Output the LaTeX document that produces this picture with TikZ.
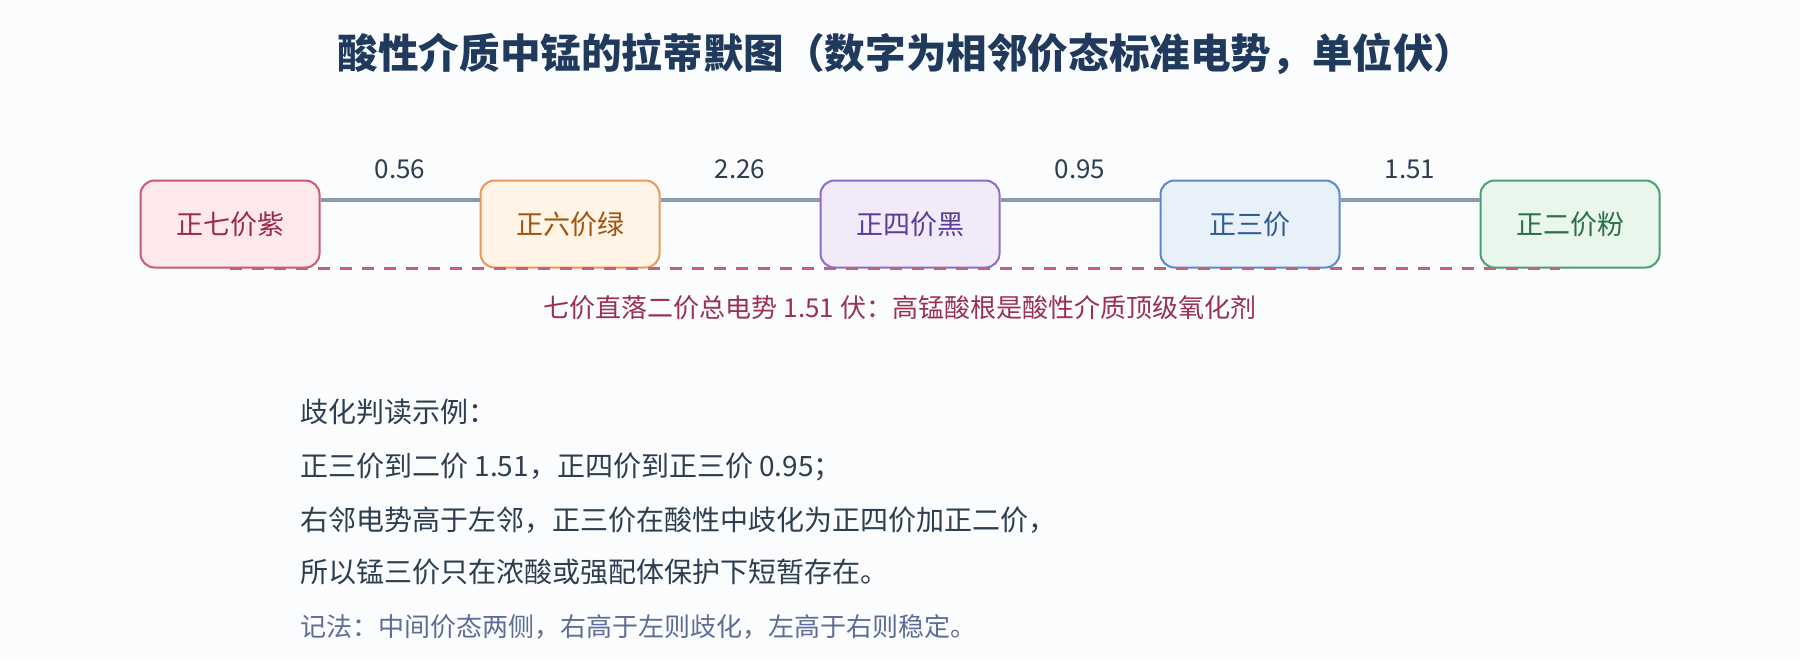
\documentclass[tikz,border=0pt]{standalone}
\usepackage{fontspec}
\setmainfont{Noto Sans CJK SC}
\usepackage{tikz}
\usetikzlibrary{calc}
\usepackage{xcolor}

\definecolor{bgcol}{HTML}{FBFCFE}
\definecolor{titlecol}{HTML}{1F3A5C}
\definecolor{textcol}{HTML}{2C3E50}
\definecolor{notecol}{HTML}{5D6D94}
\definecolor{linkcol}{HTML}{8A9BAB}
\definecolor{dashcol}{HTML}{C8607A}
\definecolor{capcol}{HTML}{9B3050}
% 各价态的颜色
\definecolor{mnVIIfill}{HTML}{FDE8EC}\definecolor{mnVIIdraw}{HTML}{C85A72}\definecolor{mnVIItext}{HTML}{9B2C48}
\definecolor{mnVIfill}{HTML}{FFF4E6}\definecolor{mnVIdraw}{HTML}{E8985A}\definecolor{mnVItext}{HTML}{A0540F}
\definecolor{mnIVfill}{HTML}{F1EAF9}\definecolor{mnIVdraw}{HTML}{8A6CC8}\definecolor{mnIVtext}{HTML}{5B3C9A}
\definecolor{mnIIIfill}{HTML}{E8F1FA}\definecolor{mnIIIdraw}{HTML}{5A88C8}\definecolor{mnIIItext}{HTML}{2F5C94}
\definecolor{mnIIfill}{HTML}{E8F6EC}\definecolor{mnIIdraw}{HTML}{4AA070}\definecolor{mnIItext}{HTML}{2A7048}

\begin{document}
\begin{tikzpicture}[x=0.5pt, y=-0.5pt]
        % ================= 样式定义 =================
        \tikzset{
            % 价态方框
            state/.style={rectangle, rounded corners=7pt, line width=1pt, minimum width=89.5pt, minimum height=43.5pt, inner sep=0pt, font=\fontsize{13.5pt}{16pt}\selectfont},
            % 相邻价态之间的连线
            link/.style={line width=2pt, linkcol},
            % 电势数字
            potential/.style={font=\fontsize{13pt}{15pt}\selectfont, text=textcol, inner sep=0pt},
            % 七价到二价的总电势虚线
            total/.style={line width=1.5pt, dashcol, dash pattern=on 6pt off 5pt},
            % 下方说明文字
            body/.style={anchor=west, inner sep=0pt, font=\fontsize{14pt}{17pt}\selectfont, text=textcol}
        }

        % ================= 0. 背景 =================
        \fill[bgcol] (0,0) rectangle (1800,660);

        % ================= 1. 标题 =================
        \node[font=\fontsize{20.3pt}{24pt}\selectfont\bfseries, text=titlecol] (title) at (906,54) {酸性介质中锰的拉蒂默图（数字为相邻价态标准电势，单位伏）};

        % ================= 2. 五个价态 =================
        \node[state, fill=mnVIIfill, draw=mnVIIdraw, text=mnVIItext] (mn7) at (230,224) {正七价紫};
        \node[state, fill=mnVIfill, draw=mnVIdraw, text=mnVItext] (mn6) at (570,224) {正六价绿};
        \node[state, fill=mnIVfill, draw=mnIVdraw, text=mnIVtext] (mn4) at (910,224) {正四价黑};
        \node[state, fill=mnIIIfill, draw=mnIIIdraw, text=mnIIItext] (mn3) at (1250,224) {正三价};
        \node[state, fill=mnIIfill, draw=mnIIdraw, text=mnIItext] (mn2) at (1570,224) {正二价粉};

        % ================= 3. 连线与电势 =================
        \draw[link] ([yshift=-10pt]mn7.north east) -- node[potential, yshift=15pt] (e76) {0.56} ([yshift=-10pt]mn6.north west);
        \draw[link] ([yshift=-10pt]mn6.north east) -- node[potential, yshift=15pt] (e64) {2.26} ([yshift=-10pt]mn4.north west);
        \draw[link] ([yshift=-10pt]mn4.north east) -- node[potential, yshift=15pt] (e43) {0.95} ([yshift=-10pt]mn3.north west);
        \draw[link] ([yshift=-10pt]mn3.north east) -- node[potential, yshift=15pt] (e32) {1.51} ([yshift=-10pt]mn2.north west);

        % --- 七价直落二价 (虚线压在方框底边上) ---
        \draw[total] (mn7.south) -- ([xshift=-5pt]mn2.south);
        \node[font=\fontsize{13pt}{15pt}\selectfont, text=capcol, inner sep=0pt] (cap) at (900,308) {七价直落二价总电势 1.51 伏：高锰酸根是酸性介质顶级氧化剂};

        % ================= 4. 歧化说明 =================
        \node[body] (ex0) at (300,412) {歧化判读示例：};
        \node[body] (ex1) at (300,467) {正三价到二价 1.51，正四价到正三价 0.95；};
        \node[body] (ex2) at (300,520) {右邻电势高于左邻，正三价在酸性中歧化为正四价加正二价，};
        \node[body] (ex3) at (300,572) {所以锰三价只在浓酸或强配体保护下短暂存在。};
        \node[body, font=\fontsize{13pt}{15pt}\selectfont, text=notecol] (rule) at (300,627) {记法：中间价态两侧，右高于左则歧化，左高于右则稳定。};

    \end{tikzpicture}
\end{document}
